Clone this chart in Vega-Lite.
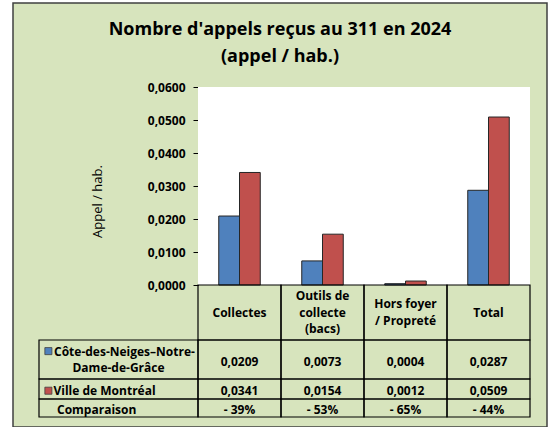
{
  "$schema": "https://vega.github.io/schema/vega-lite/v6.json",
  "width": 534,
  "height": 424,
  "autosize": {"type": "none"},
  "padding": {"left": 13, "top": 3, "right": 11, "bottom": 0},
  "background": "white",
  "title": {
    "text": ["Nombre d'appels reçus au 311 en 2024", "(appel / hab.)"],
    "frame": "group",
    "anchor": "middle",
    "orient": "top",
    "offset": -77.2,
    "baseline": "alphabetic",
    "font": "Open Sans",
    "fontSize": 18,
    "fontWeight": "bold",
    "color": "black",
    "lineHeight": 27
  },
  "config": {
    "locale": {"number": {"decimal": ",", "thousands": " ", "grouping": [3], "currency": ["", " $"]}},
    "font": "Open Sans",
    "view": {"fill": "#D7E4BD", "stroke": "#404040", "strokeWidth": 1.5}
  },
  "datasets": {
    "barres": [
      {"cat": "Collectes", "serie": "Côte-des-Neiges–Notre-Dame-de-Grâce", "val": 0.0209},
      {"cat": "Outils de collecte (bacs)", "serie": "Côte-des-Neiges–Notre-Dame-de-Grâce", "val": 0.0073},
      {"cat": "Hors foyer / Propreté", "serie": "Côte-des-Neiges–Notre-Dame-de-Grâce", "val": 0.0004},
      {"cat": "Total", "serie": "Côte-des-Neiges–Notre-Dame-de-Grâce", "val": 0.0287},
      {"cat": "Collectes", "serie": "Ville de Montréal", "val": 0.0341},
      {"cat": "Outils de collecte (bacs)", "serie": "Ville de Montréal", "val": 0.0154},
      {"cat": "Hors foyer / Propreté", "serie": "Ville de Montréal", "val": 0.0012},
      {"cat": "Total", "serie": "Ville de Montréal", "val": 0.0509}
    ],
    "colonnes": [
      {"cat": "Collectes", "ligne": "Catégorie", "entete": "Collectes"},
      {"cat": "Outils de collecte (bacs)", "ligne": "Catégorie", "entete": "Outils de\ncollecte\n(bacs)"},
      {"cat": "Hors foyer / Propreté", "ligne": "Catégorie", "entete": "Hors foyer\n/ Propreté"},
      {"cat": "Total", "ligne": "Catégorie", "entete": "Total"}
    ],
    "comparaison": [
      {"cat": "Collectes", "ligne": "Comparaison", "ecart": "- 39%"},
      {"cat": "Outils de collecte (bacs)", "ligne": "Comparaison", "ecart": "- 53%"},
      {"cat": "Hors foyer / Propreté", "ligne": "Comparaison", "ecart": "- 65%"},
      {"cat": "Total", "ligne": "Comparaison", "ecart": "- 44%"}
    ],
    "libelles": [
      {"col": "Légende", "ligne": "Côte-des-Neiges–Notre-Dame-de-Grâce", "l1": "Côte-des-Neiges–Notre-", "l2": "Dame-de-Grâce"},
      {"col": "Légende", "ligne": "Ville de Montréal", "l1": "Ville de Montréal", "l2": ""},
      {"col": "Légende", "ligne": "Comparaison", "l1": "Comparaison", "l2": ""}
    ]
  },
  "resolve": {"scale": {"x": "independent", "y": "independent"}},
  "layer": [
    {
      "data": {"name": "barres"},
      "layer": [
        {
          "mark": {"type": "rect", "fill": "white", "strokeWidth": 0},
          "encoding": {
            "x": {"field": "cat", "type": "nominal", "axis": null,
                  "scale": {"type": "band", "domain": ["Collectes", "Outils de collecte (bacs)", "Hors foyer / Propreté", "Total"], "range": [185, 517], "paddingInner": 0, "paddingOuter": 0}},
            "y": {"datum": 0.06, "type": "quantitative",
                  "scale": {"domain": [0, 0.06], "range": [282, 84], "nice": false, "zero": false},
                  "axis": {"values": [0, 0.01, 0.02, 0.03, 0.04, 0.05, 0.06], "format": ".4f", "offset": -185, "grid": false,
                           "domainColor": "black", "domainWidth": 1, "tickColor": "black", "tickWidth": 1, "tickSize": 5,
                           "labelFont": "Open Sans", "labelFontSize": 12, "labelFontWeight": "bold", "labelColor": "black", "labelPadding": 8,
                           "title": "Appel / hab.", "titleFont": "Open Sans", "titleFontSize": 13, "titleFontWeight": "normal", "titleColor": "black",
                           "titleAngle": -90, "titleX": -100.5, "titleY": 198, "titleAlign": "center", "titleBaseline": "middle"}},
            "y2": {"datum": 0}
          }
        },
        {
          "mark": {"type": "bar", "stroke": "#262626", "strokeWidth": 1},
          "encoding": {
            "x": {"field": "cat", "type": "nominal", "axis": null,
                  "scale": {"type": "band", "domain": ["Collectes", "Outils de collecte (bacs)", "Hors foyer / Propreté", "Total"], "range": [185, 517], "paddingInner": 0, "paddingOuter": 0}},
            "xOffset": {"field": "serie", "type": "nominal",
                        "scale": {"domain": ["Côte-des-Neiges–Notre-Dame-de-Grâce", "Ville de Montréal"], "paddingInner": 0, "paddingOuter": 1.075}},
            "y": {"field": "val", "type": "quantitative",
                  "scale": {"domain": [0, 0.06], "range": [282, 84], "nice": false, "zero": false},
                  "axis": {"values": [0, 0.01, 0.02, 0.03, 0.04, 0.05, 0.06], "format": ".4f", "offset": -185, "grid": false,
                           "domainColor": "black", "domainWidth": 1, "tickColor": "black", "tickWidth": 1, "tickSize": 5,
                           "labelFont": "Open Sans", "labelFontSize": 12, "labelFontWeight": "bold", "labelColor": "black", "labelPadding": 8,
                           "title": "Appel / hab.", "titleFont": "Open Sans", "titleFontSize": 13, "titleFontWeight": "normal", "titleColor": "black",
                           "titleAngle": -90, "titleX": -100.5, "titleY": 198, "titleAlign": "center", "titleBaseline": "middle"}},
            "fill": {"field": "serie", "type": "nominal",
                     "scale": {"domain": ["Côte-des-Neiges–Notre-Dame-de-Grâce", "Ville de Montréal"], "range": ["#4F81BD", "#C0504D"]},
                     "legend": null}
          }
        }
      ]
    },
    {
      "data": {"name": "colonnes"},
      "encoding": {
        "x": {"field": "cat", "type": "nominal", "axis": null,
              "scale": {"type": "band", "domain": ["Collectes", "Outils de collecte (bacs)", "Hors foyer / Propreté", "Total"], "range": [185, 517], "paddingInner": 0, "paddingOuter": 0}},
        "y": {"field": "ligne", "type": "nominal", "axis": null,
              "scale": {"type": "band", "domain": ["Catégorie"], "range": [282, 337], "paddingInner": 0, "paddingOuter": 0}}
      },
      "layer": [
        {"mark": {"type": "rect", "filled": false, "stroke": "black", "strokeWidth": 1.2}},
        {"transform": [{"filter": {"field": "cat", "oneOf": ["Collectes", "Total"]}}],
         "mark": {"type": "text", "font": "Open Sans", "fontWeight": "bold", "fontSize": 12, "lineBreak": "\n", "lineHeight": 16.5, "baseline": "middle", "align": "center", "color": "black", "dy": 0},
         "encoding": {"text": {"field": "entete", "type": "nominal"}}},
        {"transform": [{"filter": {"field": "cat", "equal": "Hors foyer / Propreté"}}],
         "mark": {"type": "text", "font": "Open Sans", "fontWeight": "bold", "fontSize": 12, "lineBreak": "\n", "lineHeight": 16.5, "baseline": "middle", "align": "center", "color": "black", "dy": -8.25},
         "encoding": {"text": {"field": "entete", "type": "nominal"}}},
        {"transform": [{"filter": {"field": "cat", "equal": "Outils de collecte (bacs)"}}],
         "mark": {"type": "text", "font": "Open Sans", "fontWeight": "bold", "fontSize": 12, "lineBreak": "\n", "lineHeight": 16.5, "baseline": "middle", "align": "center", "color": "black", "dy": -16.5},
         "encoding": {"text": {"field": "entete", "type": "nominal"}}}
      ]
    },
    {
      "data": {"name": "barres"},
      "transform": [{"filter": {"field": "serie", "equal": "Côte-des-Neiges–Notre-Dame-de-Grâce"}}],
      "encoding": {
        "x": {"field": "cat", "type": "nominal", "axis": null,
              "scale": {"type": "band", "domain": ["Collectes", "Outils de collecte (bacs)", "Hors foyer / Propreté", "Total"], "range": [185, 517], "paddingInner": 0, "paddingOuter": 0}},
        "y": {"field": "serie", "type": "nominal", "axis": null,
              "scale": {"type": "band", "domain": ["Côte-des-Neiges–Notre-Dame-de-Grâce"], "range": [337, 376], "paddingInner": 0, "paddingOuter": 0}}
      },
      "layer": [
        {"mark": {"type": "rect", "filled": false, "stroke": "black", "strokeWidth": 1.2}},
        {"mark": {"type": "text", "font": "Open Sans", "fontWeight": "bold", "fontSize": 12, "baseline": "middle", "align": "center", "color": "black", "dy": 2},
         "encoding": {"text": {"field": "val", "type": "quantitative", "format": ".4f"}}}
      ]
    },
    {
      "data": {"name": "libelles"},
      "transform": [{"filter": {"field": "ligne", "equal": "Côte-des-Neiges–Notre-Dame-de-Grâce"}}],
      "encoding": {
        "x": {"field": "col", "type": "nominal", "axis": null,
              "scale": {"type": "band", "domain": ["Légende"], "range": [26, 185], "paddingInner": 0, "paddingOuter": 0}},
        "y": {"field": "ligne", "type": "nominal", "axis": null,
              "scale": {"type": "band", "domain": ["Côte-des-Neiges–Notre-Dame-de-Grâce"], "range": [337, 376], "paddingInner": 0, "paddingOuter": 0}}
      },
      "layer": [
        {"mark": {"type": "rect", "filled": false, "stroke": "black", "strokeWidth": 1.2}},
        {"mark": {"type": "square", "size": 50, "filled": true, "fill": "#4F81BD", "stroke": "#404040", "strokeWidth": 0.8, "opacity": 1},
         "encoding": {
           "x": {"field": "col", "type": "nominal", "axis": null, "bandPosition": 0.059,
                 "scale": {"type": "band", "domain": ["Légende"], "range": [26, 185], "paddingInner": 0, "paddingOuter": 0}},
           "y": {"field": "ligne", "type": "nominal", "axis": null, "bandPosition": 0.285,
                 "scale": {"type": "band", "domain": ["Côte-des-Neiges–Notre-Dame-de-Grâce"], "range": [337, 376], "paddingInner": 0, "paddingOuter": 0}}
         }},
        {"mark": {"type": "text", "font": "Open Sans", "fontWeight": "bold", "fontSize": 12, "baseline": "middle", "align": "left", "color": "black", "dx": 15, "dy": -7.3},
         "encoding": {
           "x": {"field": "col", "type": "nominal", "axis": null, "bandPosition": 0,
                 "scale": {"type": "band", "domain": ["Légende"], "range": [26, 185], "paddingInner": 0, "paddingOuter": 0}},
           "text": {"field": "l1", "type": "nominal"}
         }},
        {"mark": {"type": "text", "font": "Open Sans", "fontWeight": "bold", "fontSize": 12, "baseline": "middle", "align": "center", "color": "black", "dy": 8.7},
         "encoding": {"text": {"field": "l2", "type": "nominal"}}}
      ]
    },
    {
      "data": {"name": "barres"},
      "transform": [{"filter": {"field": "serie", "equal": "Ville de Montréal"}}],
      "encoding": {
        "x": {"field": "cat", "type": "nominal", "axis": null,
              "scale": {"type": "band", "domain": ["Collectes", "Outils de collecte (bacs)", "Hors foyer / Propreté", "Total"], "range": [185, 517], "paddingInner": 0, "paddingOuter": 0}},
        "y": {"field": "serie", "type": "nominal", "axis": null,
              "scale": {"type": "band", "domain": ["Ville de Montréal"], "range": [376, 396], "paddingInner": 0, "paddingOuter": 0}}
      },
      "layer": [
        {"mark": {"type": "rect", "filled": false, "stroke": "black", "strokeWidth": 1.2}},
        {"mark": {"type": "text", "font": "Open Sans", "fontWeight": "bold", "fontSize": 12, "baseline": "middle", "align": "center", "color": "black", "dy": 2},
         "encoding": {"text": {"field": "val", "type": "quantitative", "format": ".4f"}}}
      ]
    },
    {
      "data": {"name": "libelles"},
      "transform": [{"filter": {"field": "ligne", "equal": "Ville de Montréal"}}],
      "encoding": {
        "x": {"field": "col", "type": "nominal", "axis": null,
              "scale": {"type": "band", "domain": ["Légende"], "range": [26, 185], "paddingInner": 0, "paddingOuter": 0}},
        "y": {"field": "ligne", "type": "nominal", "axis": null,
              "scale": {"type": "band", "domain": ["Ville de Montréal"], "range": [376, 396], "paddingInner": 0, "paddingOuter": 0}}
      },
      "layer": [
        {"mark": {"type": "rect", "filled": false, "stroke": "black", "strokeWidth": 1.2}},
        {"mark": {"type": "square", "size": 50, "filled": true, "fill": "#C0504D", "stroke": "#404040", "strokeWidth": 0.8, "opacity": 1},
         "encoding": {
           "x": {"field": "col", "type": "nominal", "axis": null, "bandPosition": 0.059,
                 "scale": {"type": "band", "domain": ["Légende"], "range": [26, 185], "paddingInner": 0, "paddingOuter": 0}},
           "y": {"field": "ligne", "type": "nominal", "axis": null, "bandPosition": 0.585,
                 "scale": {"type": "band", "domain": ["Ville de Montréal"], "range": [376, 396], "paddingInner": 0, "paddingOuter": 0}}
         }},
        {"mark": {"type": "text", "font": "Open Sans", "fontWeight": "bold", "fontSize": 12, "baseline": "middle", "align": "left", "color": "black", "dx": 14.5, "dy": 1.5},
         "encoding": {
           "x": {"field": "col", "type": "nominal", "axis": null, "bandPosition": 0,
                 "scale": {"type": "band", "domain": ["Légende"], "range": [26, 185], "paddingInner": 0, "paddingOuter": 0}},
           "text": {"field": "l1", "type": "nominal"}
         }}
      ]
    },
    {
      "data": {"name": "comparaison"},
      "encoding": {
        "x": {"field": "cat", "type": "nominal", "axis": null,
              "scale": {"type": "band", "domain": ["Collectes", "Outils de collecte (bacs)", "Hors foyer / Propreté", "Total"], "range": [185, 517], "paddingInner": 0, "paddingOuter": 0}},
        "y": {"field": "ligne", "type": "nominal", "axis": null,
              "scale": {"type": "band", "domain": ["Comparaison"], "range": [396, 414], "paddingInner": 0, "paddingOuter": 0}}
      },
      "layer": [
        {"mark": {"type": "rect", "filled": false, "stroke": "black", "strokeWidth": 1.2}},
        {"mark": {"type": "text", "font": "Open Sans", "fontWeight": "bold", "fontSize": 12, "baseline": "middle", "align": "center", "color": "black", "dy": 2},
         "encoding": {"text": {"field": "ecart", "type": "nominal"}}}
      ]
    },
    {
      "data": {"name": "libelles"},
      "transform": [{"filter": {"field": "ligne", "equal": "Comparaison"}}],
      "encoding": {
        "x": {"field": "col", "type": "nominal", "axis": null,
              "scale": {"type": "band", "domain": ["Légende"], "range": [26, 185], "paddingInner": 0, "paddingOuter": 0}},
        "y": {"field": "ligne", "type": "nominal", "axis": null,
              "scale": {"type": "band", "domain": ["Comparaison"], "range": [396, 414], "paddingInner": 0, "paddingOuter": 0}}
      },
      "layer": [
        {"mark": {"type": "rect", "filled": false, "stroke": "black", "strokeWidth": 1.2}},
        {"mark": {"type": "text", "font": "Open Sans", "fontWeight": "bold", "fontSize": 12, "baseline": "middle", "align": "left", "color": "black", "dx": 18, "dy": 2},
         "encoding": {
           "x": {"field": "col", "type": "nominal", "axis": null, "bandPosition": 0,
                 "scale": {"type": "band", "domain": ["Légende"], "range": [26, 185], "paddingInner": 0, "paddingOuter": 0}},
           "text": {"field": "l1", "type": "nominal"}
         }}
      ]
    }
  ]
}
